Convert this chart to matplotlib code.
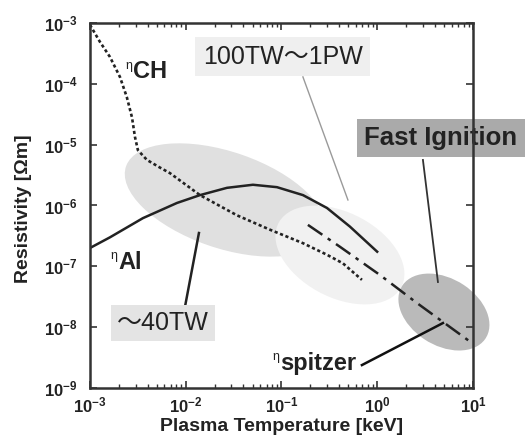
import matplotlib
matplotlib.use("Agg")
import matplotlib.pyplot as plt
from matplotlib.patches import Ellipse
from matplotlib.ticker import FixedLocator, FixedFormatter, LogLocator, NullFormatter

plt.rcParams['font.family'] = ['Liberation Sans', 'Noto Sans CJK JP', 'DejaVu Sans']
plt.rcParams['mathtext.fontset'] = 'custom'
plt.rcParams['mathtext.rm'] = 'Liberation Sans'
plt.rcParams['mathtext.bf'] = 'Liberation Sans:bold'

# values (temperature in keV, resistivity in Ohm m)
t_al = [1e-3, 1.62e-3, 3.58e-3, 8.11e-3, 1.41e-2, 2.70e-2, 5.04e-2, 8.97e-2, 1.68e-1, 2.99e-1, 5.19e-1, 1.0]
eta_al = [2.0e-7, 3.0e-7, 6.2e-7, 1.10e-6, 1.48e-6, 1.95e-6, 2.19e-6, 2.0e-6, 1.48e-6, 9.1e-7, 4.5e-7, 1.74e-7]

t_ch = [1e-3, 1.27e-3, 1.62e-3, 2.06e-3, 2.43e-3, 2.75e-3, 2.95e-3, 3.17e-3, 3.94e-3,
        5.38e-3, 6.85e-3, 1.41e-2, 3.43e-2, 7.59e-2, 1.68e-1, 2.99e-1, 4.39e-1, 6.93e-1]
eta_ch = [9.3e-4, 4.9e-4, 2.75e-4, 1.29e-4, 6.0e-5, 2.8e-5, 1.35e-5, 8.1e-6, 5.6e-6,
          4.2e-6, 3.4e-6, 1.48e-6, 6.9e-7, 4.0e-7, 2.4e-7, 1.55e-7, 1.12e-7, 6.0e-8]

t_sp = [1.89e-1, 4.08e-1, 1.07, 2.60, 9.77, 10.0]
eta_sp = [4.8e-7, 2.1e-7, 7.2e-8, 2.5e-8, 5.5e-9, 5.4e-9]

x_ticks = [1e-3, 1e-2, 1e-1, 1e0, 1e1]
x_tick_labels = [r'$\mathbf{10^{-3}}$', r'$\mathbf{10^{-2}}$', r'$\mathbf{10^{-1}}$',
                 r'$\mathbf{10^{0}}$', r'$\mathbf{10^{1}}$']
y_ticks = [1e-9, 1e-8, 1e-7, 1e-6, 1e-5, 1e-4, 1e-3]
y_tick_labels = [r'$\mathbf{10^{-9}}$', r'$\mathbf{10^{-8}}$', r'$\mathbf{10^{-7}}$',
                 r'$\mathbf{10^{-6}}$', r'$\mathbf{10^{-5}}$', r'$\mathbf{10^{-4}}$',
                 r'$\mathbf{10^{-3}}$']

fig = plt.figure(figsize=(5.29, 4.40), dpi=100)
ax = fig.add_axes([0.170, 0.118, 0.724, 0.830])
ax.set_xscale('log')
ax.set_yscale('log')
ax.set_xlim(1e-3, 1e1)
ax.set_ylim(1e-9, 1e-3)


def fx(px):
    return (px - 90) / 383.0


def fy(py):
    return (388 - py) / 365.0


# shaded regions (pixel geometry -> axes fraction)
ax.add_patch(Ellipse((fx(225), fy(200)), 210 / 383.0, 96 / 365.0, angle=-20,
                     transform=ax.transAxes, fc='#e0e0e0', ec='none', zorder=1))
ax.add_patch(Ellipse((fx(340), fy(255)), 140 / 383.0, 84 / 365.0, angle=-30,
                     transform=ax.transAxes, fc='#f1f1f1', ec='none', zorder=1.1))
ax.add_patch(Ellipse((fx(444), fy(312)), 100 / 383.0, 66 / 365.0, angle=-35,
                     transform=ax.transAxes, fc='#bababa', ec='none', zorder=1.2,
                     clip_on=False))

ax.plot(t_al, eta_al, color='#222222', lw=1.8, zorder=3)
l_ch, = ax.plot(t_ch, eta_ch, color='#222222', lw=1.9, zorder=3)
l_ch.set_dashes([1.2, 1.0])
l_sp, = ax.plot(t_sp, eta_sp, color='#222222', lw=1.8, zorder=3)
l_sp.set_dashes([7.0, 2.6, 1.4, 2.6])

# pointer lines
ax.plot([fx(303), fx(348)], [fy(77), fy(200)], transform=ax.transAxes,
        color='#9a9a9a', lw=1.0, zorder=2)
ax.plot([fx(423), fx(438)], [fy(160), fy(282)], transform=ax.transAxes,
        color='#333333', lw=1.3, zorder=2)
ax.plot([fx(199), fx(185)], [fy(233), fy(307)], transform=ax.transAxes,
        color='#222222', lw=1.8, zorder=2)
ax.plot([fx(362), fx(443)], [fy(365), fy(323)], transform=ax.transAxes,
        color='#111111', lw=1.8, zorder=4)

# labels
ax.text(fx(283), fy(57), '100TW\uff5e1PW', transform=ax.transAxes, fontsize=18,
        ha='center', va='center', color='#222222', zorder=5,
        bbox=dict(boxstyle='square,pad=0.3', fc='#efefef', ec='none'))
ax.text(fx(163), fy(323), '\uff5e40TW', transform=ax.transAxes, fontsize=18,
        ha='center', va='center', color='#222222', zorder=5,
        bbox=dict(boxstyle='square,pad=0.25', fc='#e4e4e4', ec='none'))
ax.text(fx(441), fy(138), 'Fast Ignition', transform=ax.transAxes, fontsize=18.5,
        fontweight='bold', ha='center', va='center', color='#222222', zorder=5,
        clip_on=False,
        bbox=dict(boxstyle='square,pad=0.28', fc='#aaaaaa', ec='none'))

for name, px, py in [('CH', 133, 72), ('Al', 118, 262), ('spitzer', 280, 363)]:
    ax.text(fx(px - 1), fy(py - 6), '\u03b7', transform=ax.transAxes, fontsize=9,
            ha='right', va='center', color='#222222', zorder=5)
    ax.text(fx(px), fy(py), name, transform=ax.transAxes, fontsize=17,
            fontweight='bold', ha='left', va='center', color='#222222', zorder=5)

ax.xaxis.set_major_locator(FixedLocator(x_ticks))
ax.xaxis.set_major_formatter(FixedFormatter(x_tick_labels))
ax.xaxis.set_minor_locator(LogLocator(base=10, subs=range(2, 10)))
ax.xaxis.set_minor_formatter(NullFormatter())
ax.yaxis.set_major_locator(FixedLocator(y_ticks))
ax.yaxis.set_major_formatter(FixedFormatter(y_tick_labels))
ax.yaxis.set_minor_locator(FixedLocator([]))

ax.tick_params(which='both', direction='in', top=True, right=True, colors='#333333')
ax.tick_params(which='major', length=5, width=1.2, labelsize=12, labelcolor='#222222')
ax.tick_params(which='minor', length=3, width=1.0)
ax.tick_params(axis='y', pad=9)
ax.tick_params(axis='x', pad=5)
for s in ax.spines.values():
    s.set_linewidth(1.8)
    s.set_color('#333333')
    s.set_zorder(6)

ax.set_xlabel('Plasma Temperature [keV]', fontsize=14, fontweight='bold', color='#222222')
ax.set_ylabel('Resistivity [\u03a9m]', fontsize=14, fontweight='bold', color='#222222')
ax.xaxis.set_label_coords(0.5, -0.083)
ax.yaxis.set_label_coords(-0.150, 0.49)

fig.savefig('out.png', dpi=100)
